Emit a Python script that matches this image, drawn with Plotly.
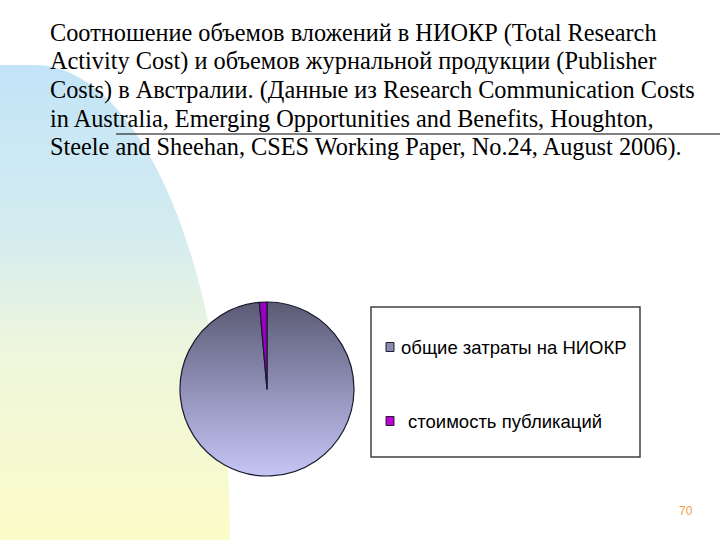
import base64
import plotly.graph_objects as go

# ---- data ----
labels = ["общие затраты на НИОКР", "стоимость публикаций"]
values = [98.6, 1.4]
slice_colors = ["rgba(0,0,0,0)", "#9a00c4"]
legend_colors = ["#8a8aae", "#c000d0"]

title_lines = [
    "Соотношение объемов вложений в НИОКР (Total Research",
    "Activity Cost) и объемов журнальной продукции (Publisher",
    "Costs) в Австралии. (Данные из Research Communication Costs",
    "in Australia, Emerging Opportunities and Benefits, Houghton,",
    "Steele and Sheehan, CSES Working Paper, No.24, August 2006).",
]
page_number = "70"

W, H = 720, 540


def svg_uri(svg):
    return "data:image/svg+xml;base64," + base64.b64encode(svg.encode("utf-8")).decode("ascii")


# slide background decoration
bg_svg = f"""<svg xmlns='http://www.w3.org/2000/svg' width='{W}' height='{H}' viewBox='0 0 {W} {H}'>
<defs><linearGradient id='g' x1='0' y1='0' x2='0' y2='1'>
<stop offset='0' stop-color='#c2e4f8'/>
<stop offset='0.35' stop-color='#d4ecf0'/>
<stop offset='0.6' stop-color='#eef6dc'/>
<stop offset='1' stop-color='#fcfcc8'/>
</linearGradient></defs>
<path d='M0,540 L0,65 L35,65 A195,475 0 0,1 230,540 Z' fill='url(#g)'/>
</svg>"""

# pie geometry (px)
cx, cy, r = 267, 389, 87

pie_grad_svg = """<svg xmlns='http://www.w3.org/2000/svg' width='200' height='200' viewBox='0 0 200 200'>
<defs><linearGradient id='p' x1='0' y1='0' x2='0' y2='1'>
<stop offset='0' stop-color='#5a5a74'/>
<stop offset='0.5' stop-color='#9090b8'/>
<stop offset='1' stop-color='#c6c6f6'/>
</linearGradient></defs>
<circle cx='100' cy='100' r='100' fill='url(#p)'/>
</svg>"""

fig = go.Figure()
fig.add_trace(go.Pie(
    labels=labels,
    values=values,
    sort=False,
    direction="clockwise",
    rotation=0,
    marker=dict(colors=slice_colors, line=dict(color="#1a1a2e", width=1.2)),
    textinfo="none",
    hoverinfo="label+percent",
    showlegend=False,
    domain=dict(x=[(cx - r) / W, (cx + r) / W], y=[1 - (cy + r) / H, 1 - (cy - r) / H]),
))

images = [
    dict(source=svg_uri(bg_svg), xref="paper", yref="paper", x=0, y=1, sizex=1, sizey=1,
         xanchor="left", yanchor="top", sizing="stretch", layer="below"),
    dict(source=svg_uri(pie_grad_svg), xref="paper", yref="paper",
         x=(cx - r) / W, y=1 - (cy - r) / H, sizex=2 * r / W, sizey=2 * r / H,
         xanchor="left", yanchor="top", sizing="stretch", layer="below"),
]

annotations = []
line_y = [33, 61, 90, 118, 147]
for txt, yy in zip(title_lines, line_y):
    annotations.append(dict(text=txt, x=48 / W, y=1 - yy / H, xref="paper", yref="paper",
                            xanchor="left", yanchor="middle", showarrow=False,
                            font=dict(family="Liberation Serif", size=24.3, color="#000000")))

# legend (manual)
shapes = [
    dict(type="line", xref="paper", yref="paper", x0=116 / W, x1=1, y0=1 - 134 / H, y1=1 - 134 / H,
         line=dict(color="#000000", width=1)),
    dict(type="rect", xref="paper", yref="paper", x0=371 / W, x1=640 / W, y0=1 - 457 / H, y1=1 - 307 / H,
         line=dict(color="#404040", width=1.5), fillcolor="rgba(255,255,255,0)"),
]
leg_y = [347, 421]
leg_tx = [399, 406]
for lab, col, yy, tx in zip(labels, legend_colors, leg_y, leg_tx):
    shapes.append(dict(type="rect", xref="paper", yref="paper", x0=386 / W, x1=394 / W,
                       y0=1 - (yy + 4.5) / H, y1=1 - (yy - 4.5) / H,
                       line=dict(color="#202030", width=1), fillcolor=col))
    annotations.append(dict(text=lab, x=tx / W, y=1 - yy / H, xref="paper", yref="paper",
                            xanchor="left", yanchor="middle", showarrow=False,
                            font=dict(family="Liberation Sans", size=18.5, color="#000000")))

annotations.append(dict(text=page_number, x=686 / W, y=1 - 511 / H, xref="paper", yref="paper",
                        xanchor="center", yanchor="middle", showarrow=False,
                        font=dict(family="Liberation Sans", size=12, color="#f0a048")))

fig.update_layout(
    width=W, height=H,
    margin=dict(l=0, r=0, t=0, b=0),
    paper_bgcolor="#ffffff",
    plot_bgcolor="#ffffff",
    images=images,
    shapes=shapes,
    annotations=annotations,
    showlegend=False,
)

fig.write_html("out.html", config={"displayModeBar": False},
               post_script="document.body.style.margin='0';document.body.style.overflow='hidden';")
